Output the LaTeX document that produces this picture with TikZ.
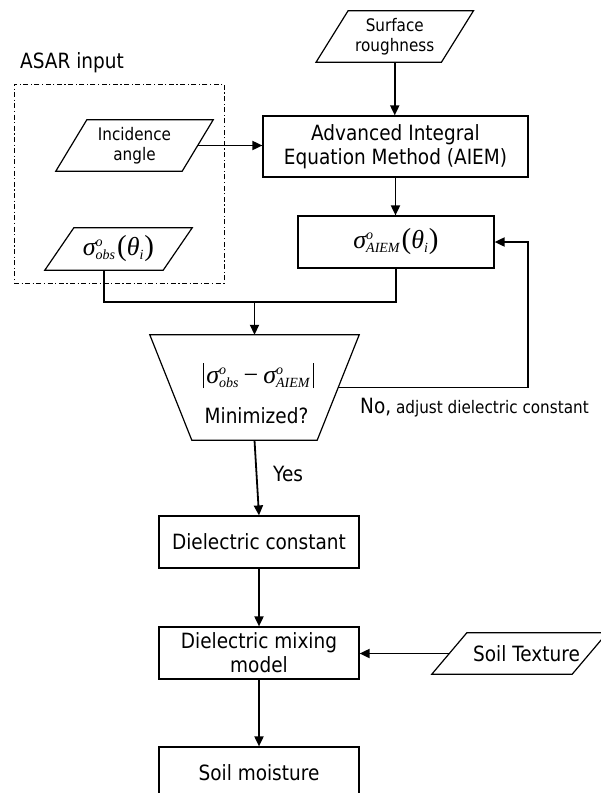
\documentclass[tikz,border=0pt]{standalone}
\usepackage{fontspec}
\setmainfont[FakeStretch=0.88]{DejaVu Sans}
\newfontfamily\tms{Liberation Serif}
\usetikzlibrary{arrows.meta,calc}

\newcommand\bigtxt{\fontsize{21}{24}\selectfont}
\newcommand\smalltxt{\fontsize{17.3}{20}\selectfont}
% backscatter symbol: sigma with superscript o and a subscript
\newcommand\sgm[1]{{\fontsize{26}{26}\selectfont\tms\itshape σ}\rlap{\raisebox{9pt}{\fontsize{14}{14}\selectfont\tms\itshape o}}\raisebox{-4pt}{\fontsize{14}{14}\selectfont\tms\itshape #1}}
% argument (theta_i)
\newcommand\thi{\kern2pt{\fontsize{29}{29}\selectfont\tms(}{\fontsize{26}{26}\selectfont\tms\itshape θ}\raisebox{-4pt}{\fontsize{14}{14}\selectfont\tms\itshape i}\kern1pt{\fontsize{29}{29}\selectfont\tms)}}
\newcommand\absbar{\rule[-5pt]{1.1pt}{25pt}}

\begin{document}
\begin{tikzpicture}[x=1pt,y=-1pt,
  boxline/.style={line width=1.2pt, line join=miter},
  box/.style={draw, boxline, rectangle, inner sep=0pt, font=\bigtxt, align=center},
  link/.style={line width=1.8pt},
  arr/.style={link, -{Triangle[length=10pt,width=9pt]}},
  para/.style={inner sep=0pt, align=center,
    append after command={\pgfextra{\draw[boxline]
      ([xshift=#1/2]\tikzlastnode.north west) -- ([xshift=#1/2]\tikzlastnode.north east) --
      ([xshift=-#1/2]\tikzlastnode.south east) -- ([xshift=-#1/2]\tikzlastnode.south west) -- cycle;}}},
  invtrap/.style={inner sep=0pt,
    append after command={\pgfextra{\draw[boxline]
      ([xshift=-#1]\tikzlastnode.north west) -- ([xshift=#1]\tikzlastnode.north east) --
      ([xshift=-#1]\tikzlastnode.south east) -- ([xshift=#1]\tikzlastnode.south west) -- cycle;}}},
  frame/.style={draw, line width=1pt, dash pattern=on 5pt off 2.5pt on 1.2pt off 2.5pt, inner sep=0pt}
]
\clip (0,0) rectangle (601,793);

% input group
\node[frame, minimum width=210pt, minimum height=199pt] (grp) at (119,183.5) {};
\node[anchor=base west, font=\bigtxt, inner sep=0pt] (asar) at (20,68) {ASAR input};
\node[para=31, minimum width=126pt, minimum height=51pt, font=\smalltxt] (inc) at (134.5,145.5) {Incidence\\angle};
\node[para=29, minimum width=118pt, minimum height=42pt] (sobs) at (118.5,249) {\sgm{obs}\thi};

% model chain
\node[para=32, minimum width=125pt, minimum height=51pt, font=\smalltxt] (rough) at (394.75,36.5) {Surface\\roughness};
\node[box, minimum width=265pt, minimum height=61pt] (aiem) at (395.5,146.5) {Advanced Integral\\Equation Method (AIEM)};
\node[box, minimum width=196pt, minimum height=52pt] (saiem) at (396,242) {\sgm{AIEM}\thi};

% decision
\node[invtrap=21pt, minimum width=167pt, minimum height=105pt] (trap) at (254.5,387.5) {};
\node[anchor=base, inner sep=0pt] (crit) at (258.5,383) {\absbar\kern2pt\sgm{obs}\kern5pt{\fontsize{26}{26}\selectfont\tms −}\kern5pt\sgm{AIEM}\kern3pt\absbar};
\node[anchor=base, font=\bigtxt, inner sep=0pt] (mini) at (256.5,423) {Minimized?};

% retrieval
\node[box, minimum width=200pt, minimum height=52pt] (dc) at (259,542) {Dielectric constant};
\node[box, minimum width=200pt, minimum height=52pt] (mix) at (259,653) {Dielectric mixing\\model};
\node[box, minimum width=200pt, minimum height=52pt] (sm) at (259,773) {Soil moisture};
\node[para=35, minimum width=140pt, minimum height=41pt, font=\bigtxt] (soil) at (519.5,653.5) {\hspace*{14pt}Soil Texture};

% connectors
\draw[arr] (rough.south) -- (rough.south |- aiem.north);
\draw[arr] (inc.east) -- (inc.east -| aiem.west);
\draw[arr] (aiem.south) -- (aiem.south |- saiem.north);
\coordinate (merge) at (254.5,302);
\draw[link] ([xshift=-14.5pt]sobs.south) |- (merge) -| (saiem.south);
\draw[arr] (merge) -- (trap.north);
\draw[arr] (trap.east) -| ([xshift=33pt]saiem.east) -- (saiem.east);
\draw[arr] (trap.south) -- (dc.north);
\draw[arr] (dc.south) -- (mix.north);
\draw[arr] (mix.south) -- (sm.north);
\draw[arr] (soil.west) -- (soil.west -| mix.east);

% branch labels
\node[anchor=base west, inner sep=0pt] (no) at (360,413) {\bigtxt No,\smalltxt\ adjust dielectric constant};
\node[anchor=base west, font=\bigtxt, inner sep=0pt] (yes) at (273,481) {Yes};
\end{tikzpicture}
\end{document}
